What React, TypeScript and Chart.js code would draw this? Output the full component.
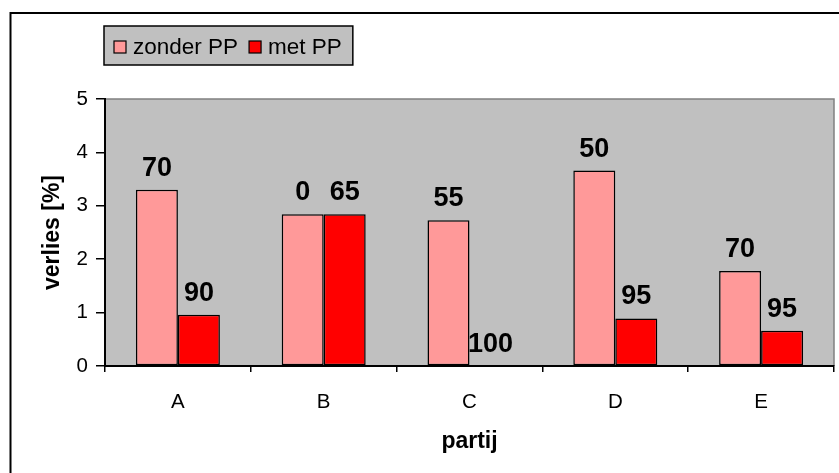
import React, { useEffect, useRef } from "react";
import { Chart, registerables } from "chart.js";

Chart.register(...registerables);

const categories = ["A", "B", "C", "D", "E"];
const seriesNames = ["zonder PP", "met PP"];
const zonderPP = [3.3, 2.84, 2.73, 3.66, 1.78];
const metPP = [0.96, 2.84, 0, 0.89, 0.66];
const zonderLabels = ["70", "0", "55", "50", "70"];
const metLabels = ["90", "65", "100", "95", "95"];
const yMin = 0;
const yMax = 5;
const yStep = 1;
const xTitle = "partij";
const yTitle = "verlies [%]";

const seriesColors = ["#FF9999", "#FF0000"];
const FONT = "'Liberation Sans', Arial, Helvetica, sans-serif";

const W = 839;
const H = 473;

const framePlugin = {
  id: "frame",
  beforeDraw(chart: any) {
    const { ctx, chartArea } = chart;
    ctx.save();
    ctx.fillStyle = "#FFFFFF";
    ctx.fillRect(0, 0, chart.width, chart.height);
    ctx.fillStyle = "#C0C0C0";
    ctx.fillRect(chartArea.left, chartArea.top, chartArea.right - chartArea.left, chartArea.bottom - chartArea.top);
    ctx.strokeStyle = "#808080";
    ctx.lineWidth = 1.5;
    ctx.beginPath();
    ctx.moveTo(chartArea.left, chartArea.top);
    ctx.lineTo(chartArea.right, chartArea.top);
    ctx.lineTo(chartArea.right, chartArea.bottom);
    ctx.stroke();
    ctx.restore();
  },
  afterDatasetsDraw(chart: any) {
    const { ctx } = chart;
    const labelSets = [zonderLabels, metLabels];
    ctx.save();
    ctx.font = `bold 27px ${FONT}`;
    ctx.fillStyle = "#000000";
    ctx.textAlign = "center";
    ctx.textBaseline = "alphabetic";
    chart.data.datasets.forEach((_: any, di: number) => {
      const meta = chart.getDatasetMeta(di);
      meta.data.forEach((el: any, i: number) => {
        const txt = labelSets[di][i];
        if (txt == null) return;
        ctx.fillText(txt, el.x, el.y - 14);
      });
    });
    ctx.restore();
  },
  afterDraw(chart: any) {
    const { ctx } = chart;
    ctx.save();
    // outer frame (extends beyond right/bottom of the picture)
    ctx.strokeStyle = "#000000";
    ctx.lineWidth = 2;
    ctx.beginPath();
    ctx.moveTo(10.5, chart.height + 5);
    ctx.lineTo(10.5, 13);
    ctx.lineTo(chart.width + 5, 13);
    ctx.stroke();

    // legend
    ctx.font = `22.5px ${FONT}`;
    const boxX = 104;
    const boxY = 26;
    const boxH = 39;
    const sq = 12;
    const items: { x: number; tx: number; w: number }[] = [];
    let x = boxX + 10;
    seriesNames.forEach((name) => {
      const w = ctx.measureText(name).width;
      items.push({ x, tx: x + sq + 7, w });
      x = x + sq + 7 + w + 11;
    });
    const boxW = x - boxX;
    ctx.fillStyle = "#C0C0C0";
    ctx.fillRect(boxX, boxY, boxW, boxH);
    ctx.lineWidth = 1.5;
    ctx.strokeStyle = "#000000";
    ctx.strokeRect(boxX, boxY, boxW, boxH);
    items.forEach((it, i) => {
      ctx.fillStyle = seriesColors[i];
      ctx.fillRect(it.x, 41, sq, sq);
      ctx.lineWidth = 1.2;
      ctx.strokeStyle = "#000000";
      ctx.strokeRect(it.x, 41, sq, sq);
      ctx.fillStyle = "#000000";
      ctx.textAlign = "left";
      ctx.textBaseline = "alphabetic";
      ctx.fillText(seriesNames[i], it.tx, 53.5);
    });
    ctx.restore();
  },
};

export default function App() {
  const ref = useRef<HTMLCanvasElement | null>(null);

  useEffect(() => {
    document.body.style.margin = "0";
    const canvas = ref.current;
    if (!canvas) return;
    const chart = new Chart(canvas, {
      type: "bar",
      data: {
        labels: categories,
        datasets: [
          {
            label: seriesNames[0],
            data: zonderPP,
            backgroundColor: seriesColors[0],
            borderColor: "#000000",
            borderWidth: 1.5,
            borderSkipped: false,
            categoryPercentage: 0.576,
            barPercentage: 1,
          },
          {
            label: seriesNames[1],
            data: metPP,
            backgroundColor: seriesColors[1],
            borderColor: "#000000",
            borderWidth: 1.5,
            borderSkipped: false,
            categoryPercentage: 0.576,
            barPercentage: 1,
          },
        ],
      },
      options: {
        responsive: false,
        animation: false,
        devicePixelRatio: 1,
        layout: { padding: { left: 0, right: 5, top: 99, bottom: 0 } },
        plugins: {
          legend: { display: false },
          tooltip: { enabled: false },
          title: { display: false },
        },
        scales: {
          x: {
            offset: true,
            grid: {
              offset: true,
              drawOnChartArea: false,
              drawTicks: true,
              tickLength: 6,
              color: "#000000",
              lineWidth: 1.5,
            },
            border: { display: true, color: "#000000", width: 2 },
            ticks: {
              color: "#000000",
              font: { family: FONT, size: 20.5 },
              padding: 18,
              maxRotation: 0,
            },
            title: {
              display: true,
              text: xTitle,
              color: "#000000",
              font: { family: FONT, size: 23, weight: "bold" },
              padding: { top: 0, bottom: 18 },
            },
            afterFit(scale: any) {
              scale.height = 107;
            },
          },
          y: {
            min: yMin,
            max: yMax,
            grid: {
              drawOnChartArea: false,
              drawTicks: true,
              tickLength: 9,
              color: "#000000",
              lineWidth: 1.5,
            },
            border: { display: true, color: "#000000", width: 2 },
            ticks: {
              stepSize: yStep,
              color: "#000000",
              font: { family: FONT, size: 20.5 },
              padding: 8,
            },
            title: {
              display: true,
              text: yTitle,
              color: "#000000",
              font: { family: FONT, size: 23, weight: "bold" },
              padding: { top: 39, bottom: 0 },
            },
            afterFit(scale: any) {
              scale.width = 105;
            },
          },
        },
      },
      plugins: [framePlugin],
    } as any);
    return () => chart.destroy();
  }, []);

  return (
    <div style={{ position: "fixed", left: 0, top: 0, width: W, height: H, background: "#fff" }}>
      <canvas ref={ref} width={W} height={H} style={{ display: "block", width: W, height: H }} />
    </div>
  );
}
